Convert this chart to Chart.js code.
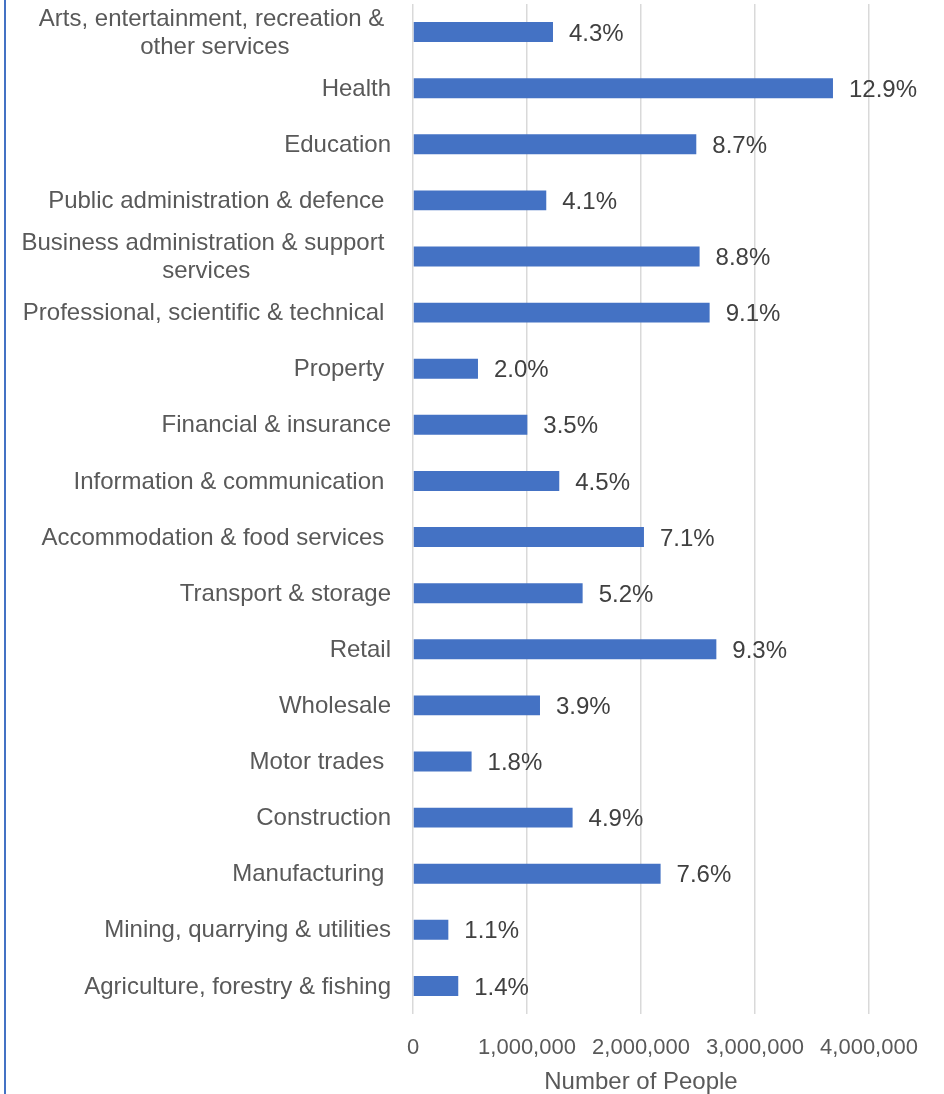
<!DOCTYPE html>
<html>
<head>
<meta charset="utf-8">
<title>Number of People by Industry</title>
<script src="https://cdn.jsdelivr.net/npm/chart.js@4.4.1/dist/chart.umd.min.js"></script>
<style>
  html, body { margin: 0; padding: 0; background: #ffffff; }
  #marco { position: relative; width: 944px; height: 1094px; }
  #linea { position: absolute; left: 4px; top: 0; width: 2px; height: 1094px; background: #4472C4; }
  #idGrafica { position: absolute; left: 0; top: 0; }
</style>
</head>
<body>
<div id="marco">
  <div id="linea"></div>
  <canvas id="idGrafica" width="944" height="1094"></canvas>
</div>
<script>
// sectores (de arriba a abajo), las etiquetas largas van en dos lineas
var etiquetas = [
    ["Arts, entertainment, recreation & ", "other services"],
    "Health",
    "Education",
    "Public administration & defence ",
    ["Business administration & support ", "services"],
    "Professional, scientific & technical ",
    "Property ",
    "Financial & insurance",
    "Information & communication ",
    "Accommodation & food services ",
    "Transport & storage",
    "Retail",
    "Wholesale",
    "Motor trades ",
    "Construction",
    "Manufacturing ",
    "Mining, quarrying & utilities",
    "Agriculture, forestry & fishing"
];

// numero de personas por sector
var personas = [
    1228000, 3684000, 2485000, 1169000, 2514000, 2602000,
    570000, 1003000, 1283000, 2026000, 1488000, 2661000,
    1114000, 514000, 1400000, 2172000, 310000, 397000
];

// porcentaje del total que se escribe al lado de cada barra
var porcentajes = [
    4.3, 12.9, 8.7, 4.1, 8.8, 9.1,
    2.0, 3.5, 4.5, 7.1, 5.2, 9.3,
    3.9, 1.8, 4.9, 7.6, 1.1, 1.4
];

var ticksX = [0, 1000000, 2000000, 3000000, 4000000];

var fuente = '"Liberation Sans", Arial, sans-serif';

// nombres de los sectores a la izquierda, alineados a la derecha
// (las de dos lineas van centradas entre si)
var nombresSectores = {
    id: 'nombresSectores',
    afterDraw: function (chart) {
        var ctx = chart.ctx;
        var escala = chart.scales.y;
        var derecha = 391;
        var alto = 28;
        ctx.save();
        ctx.font = '24px ' + fuente;
        ctx.fillStyle = '#595959';
        ctx.textBaseline = 'middle';
        etiquetas.forEach(function (et, i) {
            var y = escala.getPixelForTick(i) + 1;
            if (Array.isArray(et)) {
                var ancho = 0;
                et.forEach(function (l) { ancho = Math.max(ancho, ctx.measureText(l).width); });
                var centro = derecha - ancho / 2;
                ctx.textAlign = 'center';
                et.forEach(function (l, j) {
                    ctx.fillText(l, centro, y + (j - (et.length - 1) / 2) * alto);
                });
            } else {
                ctx.textAlign = 'right';
                ctx.fillText(et, derecha, y);
            }
        });
        ctx.restore();
    }
};

// porcentaje al final de cada barra
var etiquetasValor = {
    id: 'etiquetasValor',
    afterDatasetsDraw: function (chart) {
        var ctx = chart.ctx;
        var barras = chart.getDatasetMeta(0).data;
        ctx.save();
        ctx.font = '24px ' + fuente;
        ctx.fillStyle = '#404040';
        ctx.textAlign = 'left';
        ctx.textBaseline = 'middle';
        barras.forEach(function (b, i) {
            ctx.fillText(porcentajes[i].toFixed(1) + '%', b.x + 16, b.y + 2);
        });
        ctx.restore();
    }
};

var ctx = document.getElementById('idGrafica').getContext('2d');
var myChart = new Chart(ctx, {
    type: 'bar',
    data: {
        labels: etiquetas,
        datasets: [{
            label: 'Number of People',
            data: personas,
            backgroundColor: '#4472C4',
            borderWidth: 0,
            barPercentage: 0.355,
            categoryPercentage: 1
        }]
    },
    options: {
        indexAxis: 'y',
        responsive: false,
        animation: false,
        layout: { padding: { top: 4, right: 75, bottom: 0, left: 0 } },
        plugins: {
            legend: { display: false },
            tooltip: { enabled: false }
        },
        scales: {
            x: {
                min: 0,
                max: 4000000,
                afterBuildTicks: function (s) {
                    s.ticks = ticksX.map(function (v) { return { value: v }; });
                },
                afterFit: function (s) { s.height = 80; },
                grid: { color: '#D9D9D9', lineWidth: 1.5, drawTicks: false },
                border: { display: false },
                ticks: {
                    padding: 21,
                    color: '#595959',
                    font: { family: fuente, size: 22 },
                    maxRotation: 0,
                    callback: function (v) { return Number(v).toLocaleString('en-US'); }
                },
                title: {
                    display: true,
                    text: 'Number of People',
                    color: '#595959',
                    font: { family: fuente, size: 24, lineHeight: 1 },
                    padding: { top: 0, bottom: 0 }
                }
            },
            y: {
                afterFit: function (s) { s.width = 413; },
                grid: { display: false },
                border: { display: false },
                ticks: { display: false }
            }
        }
    },
    plugins: [nombresSectores, etiquetasValor]
});
</script>
</body>
</html>
